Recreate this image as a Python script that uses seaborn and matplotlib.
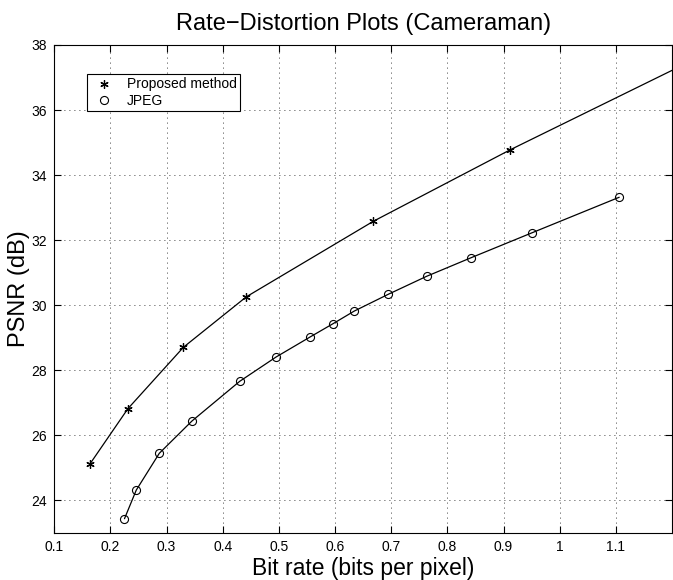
import numpy as np
import pandas as pd
import seaborn as sns
import matplotlib
matplotlib.use("Agg")
import matplotlib.pyplot as plt
from matplotlib.lines import Line2D

# Data
proposed_rate = [0.163, 0.231, 0.330, 0.442, 0.668, 0.912, 1.200]
proposed_psnr = [25.11, 26.82, 28.71, 30.26, 32.58, 34.78, 37.22]
proposed_marked = 6  # last point is where the curve leaves the plot

jpeg_rate = [0.225, 0.246, 0.287, 0.345, 0.430, 0.495, 0.556, 0.596,
             0.634, 0.695, 0.763, 0.842, 0.951, 1.106]
jpeg_psnr = [23.44, 24.32, 25.45, 26.44, 27.66, 28.41, 29.03, 29.43,
             29.82, 30.34, 30.89, 31.46, 32.23, 33.32]

x_ticks = [0.1, 0.2, 0.3, 0.4, 0.5, 0.6, 0.7, 0.8, 0.9, 1.0, 1.1]
x_labels = ["0.1", "0.2", "0.3", "0.4", "0.5", "0.6", "0.7", "0.8", "0.9", "1", "1.1"]
y_ticks = [24, 26, 28, 30, 32, 34, 36, 38]

sns.set_theme(style="white")
plt.rcParams["font.family"] = ["Liberation Sans", "DejaVu Sans"]
plt.rcParams["text.color"] = "black"
plt.rcParams["axes.labelcolor"] = "black"

fig = plt.figure(figsize=(6.73, 5.80), dpi=100)
ax = fig.add_axes([54.3 / 673, 47 / 580, (672 - 54.3) / 673, (533 - 45) / 580])

df_p = pd.DataFrame({"rate": proposed_rate, "psnr": proposed_psnr})
df_j = pd.DataFrame({"rate": jpeg_rate, "psnr": jpeg_psnr})

sns.lineplot(data=df_p, x="rate", y="psnr", ax=ax, sort=False, color="black",
             linewidth=0.9, marker=(6, 2, 0), markersize=6, markeredgewidth=0.9,
             markeredgecolor="black", markevery=list(range(proposed_marked)))
sns.lineplot(data=df_j, x="rate", y="psnr", ax=ax, sort=False, color="black",
             linewidth=0.9, marker="o", markersize=5.8, markerfacecolor="none",
             markeredgewidth=0.8, markeredgecolor="black")

ax.set_xlim(0.1, 1.2)
ax.set_ylim(23, 38)
ax.set_xticks(x_ticks)
ax.set_xticklabels(x_labels)
ax.set_yticks(y_ticks)
ax.set_yticklabels([str(v) for v in y_ticks])

ax.tick_params(direction="in", length=5, width=0.8, colors="black",
               labelsize=10, top=True, right=True, bottom=True, left=True,
               labeltop=False, labelright=False, pad=5)

ax.grid(True, color="black", linestyle=(0, (1, 5)), linewidth=0.6)
for s in ax.spines.values():
    s.set_color("black")
    s.set_linewidth(0.8)
    s.set_visible(True)

ax.set_xlabel("Bit rate (bits per pixel)", fontsize=16.5, labelpad=2, color="black")
ax.set_ylabel("PSNR (dB)", fontsize=17, labelpad=1, color="black")
ax.set_title("Rate\u2212Distortion Plots (Cameraman)", fontsize=17, pad=11, color="black")

handles = [
    Line2D([], [], linestyle="none", marker=(6, 2, 0), markersize=6,
           markeredgewidth=0.9, color="black"),
    Line2D([], [], linestyle="none", marker="o", markersize=5.8,
           markerfacecolor="none", markeredgewidth=0.8, markeredgecolor="black"),
]
leg = ax.legend(handles, ["Proposed method", "JPEG"], loc="upper left",
                bbox_to_anchor=(0.053, 0.9406), borderaxespad=0, fontsize=10,
                frameon=True, fancybox=False, framealpha=1, edgecolor="black",
                handlelength=2.0, handletextpad=0.6, borderpad=0.25,
                labelspacing=0.15)
leg.get_frame().set_linewidth(0.8)
for t in leg.get_texts():
    t.set_color("black")

fig.savefig("out.png", dpi=100)
